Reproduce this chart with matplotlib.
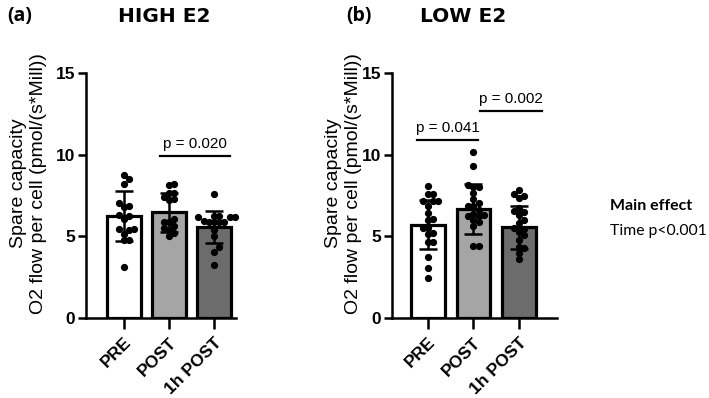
import numpy as np
import matplotlib
matplotlib.use('Agg')
import matplotlib.pyplot as plt

plt.rcParams['font.family'] = ['Liberation Sans', 'DejaVu Sans']

groups = ['PRE', 'POST', '1h POST']
bar_colors = ['#ffffff', '#a5a5a5', '#6c6c6c']

# HIGH E2
high_pre = [8.73, 8.51, 8.22, 7.03, 6.83, 6.77, 6.32, 6.22, 6.05, 5.44, 5.44, 5.4, 5.15, 4.79, 4.79, 3.15]
high_post = [8.12, 8.22, 7.65, 7.65, 7.4, 7.28, 7.2, 5.85, 6.05, 5.85, 5.64, 5.5, 5.4, 5.03, 5.2]
high_1h = [7.6, 6.18, 6.18, 6.26, 6.22, 6.18, 5.9, 5.9, 5.93, 5.9, 5.9, 5.36, 5.03, 4.34, 4.05, 3.25]
high_mean = [6.25, 6.46, 5.6]
high_sd = [1.52, 1.19, 0.98]

# LOW E2
low_pre = [8.1, 7.6, 7.6, 7.14, 7.14, 7.14, 6.83, 6.42, 6.05, 5.97, 5.5, 5.5, 5.15, 5.23, 4.68, 4.68, 3.76, 3.05, 2.43]
low_post = [10.14, 9.28, 8.02, 8.16, 8.02, 7.65, 7.28, 7.03, 6.83, 6.83, 6.63, 6.38, 6.22, 6.32, 6.01, 5.9, 5.64, 4.38, 4.38, 6.26]
low_1h = [7.48, 7.6, 7.81, 7.34, 6.73, 6.58, 6.52, 6.32, 6.01, 5.81, 5.5, 5.44, 5.29, 5.09, 4.79, 4.34, 4.28, 3.97, 3.6]
low_mean = [5.72, 6.69, 5.55]
low_sd = [1.48, 1.53, 1.32]

# comparison brackets: (x start, x end, height, label)
high_p = [(0.8, 2.36, 9.9, 'p = 0.020')]
low_p = [(-0.24, 1.1, 10.9, 'p = 0.041'), (1.14, 2.5, 12.7, 'p = 0.002')]


def swarm(vals, center, xpx, ypx, d=5.2):
    # simple beeswarm: place each dot at the nearest free slot
    placed = []
    xs = np.zeros(len(vals))
    order = np.argsort(vals)
    for i in order:
        y = vals[i] * ypx
        k = 0
        while True:
            off = ((k + 1) // 2) * (1 if k % 2 else -1) * d
            if all((off - px) ** 2 + (y - py) ** 2 >= d * d * 0.95 for px, py in placed):
                break
            k += 1
        placed.append((off, y))
        xs[i] = center + off / xpx
    return xs


def panel(ax, data, means, sds, pvals, xlim, xpx, labx):
    ypx = 16.3
    x = np.arange(3)
    ax.bar(x, means, width=0.74, color=bar_colors, edgecolor='black', linewidth=2.3, zorder=1)
    for i, vals in enumerate(data):
        xs = swarm(np.array(vals), i, xpx, ypx)
        ax.plot(xs, vals, 'o', color='black', markersize=4.2, zorder=3, clip_on=False)
    ax.errorbar(x, means, yerr=sds, fmt='none', ecolor='black', elinewidth=1.8,
                capsize=6.5, capthick=1.8, zorder=4)
    for a, b, h, txt in pvals:
        ax.plot([a, b], [h, h], color='black', lw=1.6, clip_on=False)
        ax.text((a + b) / 2, h + 0.3, txt, ha='center', va='bottom', fontsize=11)
    ax.set_ylim(0, 15)
    ax.set_xlim(*xlim)
    ax.set_yticks([0, 5, 10, 15])
    ax.set_xticks(x)
    ax.set_xticklabels(groups, rotation=45, ha='right', rotation_mode='anchor',
                       fontsize=12.5, fontweight='bold')
    for lab in ax.get_yticklabels():
        lab.set_fontsize(12.5)
        lab.set_fontweight('bold')
    ax.tick_params(axis='y', length=6, width=1.8, pad=2)
    ax.tick_params(axis='x', length=8, width=1.8, pad=4)
    ax.spines['top'].set_visible(False)
    ax.spines['right'].set_visible(False)
    ax.spines['left'].set_linewidth(1.8)
    ax.spines['bottom'].set_linewidth(1.8)
    ax.set_ylabel('Spare capacity\nO2 flow per cell (pmol/(s*Mill))', fontsize=14,
                  linespacing=1.2)
    ax.yaxis.set_label_coords(labx, 0.55)


fig = plt.figure(figsize=(7.09, 3.98), dpi=100)
W, H = 709, 398
ax1 = fig.add_axes([86 / W, 1 - 318 / H, 150 / W, 245 / H])
ax2 = fig.add_axes([392 / W, 1 - 318 / H, 165 / W, 245 / H])

panel(ax1, [high_pre, high_post, high_1h], high_mean, high_sd, high_p, (-0.844, 2.49), 45,
      (47 - 86) / 150)
panel(ax2, [low_pre, low_post, low_1h], low_mean, low_sd, low_p, (-0.79, 2.84), 45.5,
      (362 - 392) / 165)

lfont = dict(fontsize=14, fontweight='bold', family='Open Sans', va='center')
tfont = dict(fontsize=14.5, fontweight='bold', family='DejaVu Sans', va='center', ha='center')
fig.text(7 / W, 1 - 16 / H, '(a)', **lfont)
fig.text(164 / W, 1 - 16 / H, 'HIGH E2', **tfont)
fig.text(346 / W, 1 - 16 / H, '(b)', **lfont)
fig.text(463 / W, 1 - 16 / H, 'LOW E2', **tfont)
fig.text(610 / W, 1 - 206 / H, 'Main effect', fontsize=11.5, fontweight='bold', family='Lato',
         va='center')
fig.text(610 / W, 1 - 231 / H, 'Time p<0.001', fontsize=11.3, family='Lato', va='center')

fig.savefig('out.png', dpi=100)
